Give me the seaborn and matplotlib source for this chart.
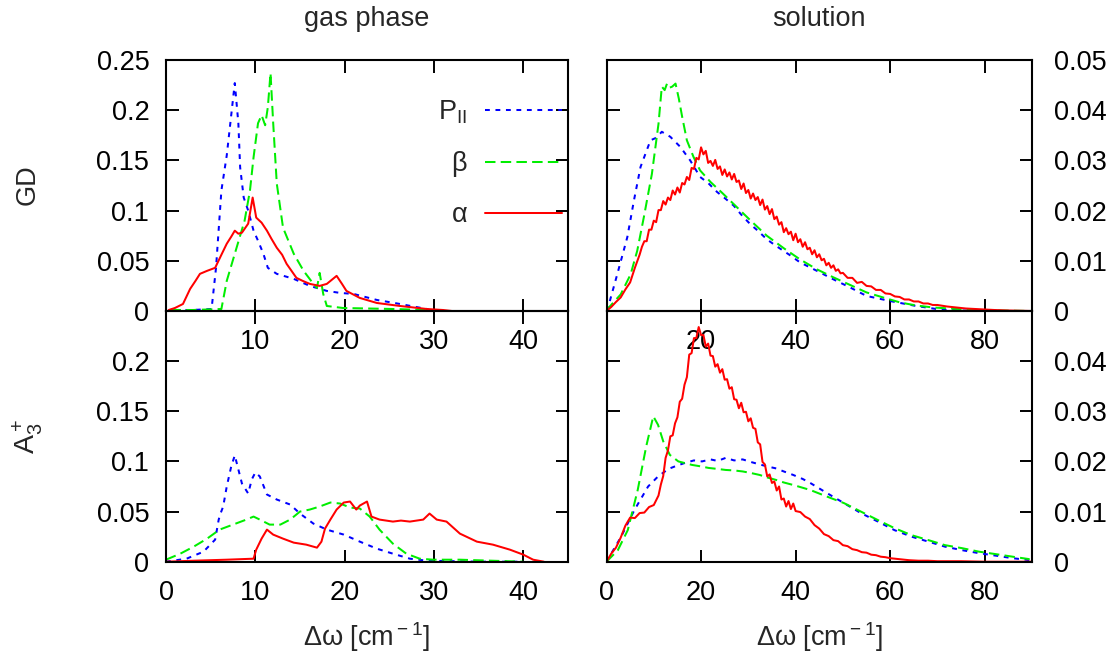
import matplotlib
matplotlib.use("Agg")
import matplotlib.pyplot as plt
import seaborn as sns

# ---------------- data: GD, gas phase ----------------
gd_gas_p_x = [1.0, 3.0, 5.1, 5.6, 6.2, 6.8, 7.7, 8.1, 8.3, 8.7, 9.2, 9.8, 10.3, 10.9, 11.4,
              12.4, 14.3, 16.1, 18.0, 19.5, 21.0, 23.6, 26.2, 29.2, 29.8]
gd_gas_p_y = [0.001, 0.001, 0.002, 0.043, 0.120, 0.155, 0.227, 0.187, 0.143, 0.113, 0.100,
              0.080, 0.070, 0.057, 0.043, 0.037, 0.032, 0.025, 0.020, 0.018, 0.017, 0.011,
              0.007, 0.002, 0.0]
gd_gas_b_x = [0.5, 3.0, 6.2, 6.8, 7.9, 8.8, 9.4, 9.8, 10.3, 10.7, 11.1, 11.4, 11.7, 12.0, 12.4,
              13.1, 14.3, 15.4, 16.5, 16.9, 17.2, 17.6, 18.0, 19.8, 25.4, 29.2, 30.0]
gd_gas_b_y = [0.001, 0.001, 0.002, 0.030, 0.063, 0.090, 0.120, 0.153, 0.187, 0.195, 0.185,
              0.203, 0.237, 0.187, 0.127, 0.083, 0.057, 0.040, 0.027, 0.023, 0.038, 0.017,
              0.005, 0.003, 0.002, 0.001, 0.0]
gd_gas_a_x = [0.3, 1.0, 1.9, 2.7, 3.3, 3.8, 4.6, 5.5, 6.2, 6.8, 7.3, 7.7, 8.1, 8.5, 9.2, 9.7,
              10.1, 10.7, 11.3, 11.8, 12.4, 13.0, 13.5, 14.6, 15.3, 16.1, 17.2, 18.0, 19.1,
              19.7, 20.2, 21.7, 23.6, 26.2, 29.2, 31.0, 32.0]
gd_gas_a_y = [0.001, 0.003, 0.007, 0.022, 0.030, 0.037, 0.040, 0.043, 0.056, 0.067, 0.074,
              0.080, 0.077, 0.078, 0.087, 0.113, 0.093, 0.088, 0.080, 0.072, 0.063, 0.056,
              0.047, 0.033, 0.030, 0.027, 0.025, 0.027, 0.035, 0.027, 0.020, 0.013, 0.008,
              0.005, 0.002, 0.001, 0.0]

# ---------------- data: A3+, gas phase ----------------
a3_gas_p_x = [0.0, 2.3, 4.2, 5.5, 5.9, 6.1, 6.4, 6.8, 7.3, 7.7, 8.1, 8.5, 9.2, 9.6, 10.0, 10.5,
              11.3, 12.4, 13.9, 15.0, 16.5, 18.0, 19.9, 21.7, 23.6, 25.4, 27.3, 29.2, 35.0, 40.0]
a3_gas_p_y = [0.0, 0.003, 0.010, 0.022, 0.042, 0.048, 0.055, 0.075, 0.095, 0.106, 0.092, 0.078,
              0.068, 0.082, 0.089, 0.085, 0.067, 0.062, 0.057, 0.048, 0.038, 0.032, 0.027,
              0.020, 0.013, 0.008, 0.003, 0.001, 0.0, 0.0]
a3_gas_b_x = [0.0, 1.6, 3.1, 4.6, 6.0, 7.5, 9.0, 9.8, 10.5, 11.6, 12.8, 13.9, 15.0, 16.1, 17.2,
              18.4, 19.5, 20.6, 21.7, 22.8, 23.9, 25.4, 26.9, 28.4, 29.9, 32.9, 40.0]
a3_gas_b_y = [0.002, 0.008, 0.015, 0.023, 0.032, 0.037, 0.042, 0.045, 0.042, 0.037, 0.037,
              0.042, 0.050, 0.052, 0.055, 0.059, 0.058, 0.054, 0.053, 0.045, 0.032, 0.018,
              0.008, 0.003, 0.002, 0.002, 0.0]
a3_gas_a_x = [0.0, 3.1, 6.8, 9.8, 10.1, 10.7, 11.3, 12.0, 13.1, 14.3, 15.7, 16.9, 17.4, 17.8,
              18.4, 19.1, 19.9, 20.6, 21.3, 21.7, 22.5, 23.0, 23.9, 25.4, 26.3, 27.3, 28.8,
              29.5, 30.3, 31.4, 32.9, 34.8, 36.6, 38.5, 40.0, 41.1, 42.3]
a3_gas_a_y = [0.0, 0.001, 0.002, 0.003, 0.012, 0.023, 0.032, 0.027, 0.023, 0.019, 0.017, 0.014,
              0.020, 0.033, 0.042, 0.052, 0.059, 0.060, 0.052, 0.056, 0.060, 0.045, 0.042,
              0.040, 0.041, 0.040, 0.042, 0.048, 0.042, 0.040, 0.028, 0.020, 0.017, 0.012,
              0.007, 0.002, 0.0]

# ---------------- data: GD, solution ----------------
gd_sol_p_x = [0.0, 0.5, 2.3, 4.4, 5.8, 7.2, 9.3, 10.5, 11.7, 13.5, 15.6, 17.7, 19.8, 21.5, 23.4,
              25.0, 26.9, 28.5, 30.4, 32.0, 33.9, 35.5, 37.4, 39.0, 40.9, 44.5, 48.0, 51.5,
              55.0, 59.9, 65.5, 70.5, 75.0, 80.0, 90.0]
gd_sol_p_y = [0.0, 0.0013, 0.0074, 0.0147, 0.0220, 0.0287, 0.0340, 0.0345, 0.0357, 0.0347,
              0.0327, 0.0300, 0.0267, 0.0255, 0.0237, 0.0225, 0.0210, 0.0192, 0.0173, 0.0160,
              0.0143, 0.0132, 0.0120, 0.0110, 0.0097, 0.0080, 0.0063, 0.0047, 0.0030, 0.0020,
              0.0010, 0.0003, 0.0001, 0.0, 0.0]
gd_sol_b_x = [0.0, 0.5, 3.0, 5.1, 6.5, 7.9, 9.6, 11.0, 11.7, 12.3, 12.8, 13.4, 13.9, 14.6, 15.3,
              16.0, 17.0, 18.4, 19.8, 22.0, 24.5, 26.9, 30.5, 33.9, 37.5, 40.9, 44.5, 48.0,
              51.5, 55.0, 58.5, 62.1, 65.5, 69.1, 76.1, 82.0, 90.0]
gd_sol_b_y = [0.0, 0.0007, 0.0033, 0.0073, 0.0120, 0.0187, 0.0273, 0.0373, 0.0447, 0.0440,
              0.0453, 0.0445, 0.0447, 0.0453, 0.0423, 0.0387, 0.0340, 0.0307, 0.0280, 0.0257,
              0.0235, 0.0213, 0.0180, 0.0150, 0.0125, 0.0103, 0.0083, 0.0067, 0.0052, 0.0037,
              0.0027, 0.0017, 0.0011, 0.0007, 0.0003, 0.0001, 0.0]
gd_sol_a_x = [0, 1, 2, 3, 4, 5, 6, 7, 7.5, 8, 8.5, 9, 9.5, 10, 10.5, 11, 11.5, 12, 12.5, 13, 13.5,
              14, 14.5, 15, 15.5, 16, 16.5, 17, 17.5, 18, 18.5, 19, 19.5, 20, 20.5, 21, 21.5,
              22, 22.5, 23, 23.5, 24, 24.5, 25, 25.5, 26, 26.5, 27, 27.5, 28, 28.5, 29, 29.5,
              30, 30.5, 31, 31.5, 32, 32.5, 33, 33.5, 34, 34.5, 35, 35.5, 36, 36.5, 37, 37.5,
              38, 38.5, 39, 39.5, 40, 40.5, 41, 41.5, 42, 42.5, 43, 43.5, 44, 44.5, 45, 45.5,
              46, 46.5, 47, 47.5, 48, 48.5, 49, 49.5, 50, 51, 52, 53, 54, 55, 56, 57, 58, 59,
              60, 61, 62, 63, 64, 65, 66, 67, 68, 69, 70, 72, 74, 76, 78, 80, 82, 85, 90]
gd_sol_a_y = [0.0, 0.0008, 0.0018, 0.0027, 0.0043, 0.0057, 0.0086, 0.0112, 0.0128, 0.0139,
              0.0139, 0.0162, 0.0162, 0.0180, 0.0177, 0.0201, 0.0201, 0.0219, 0.0212, 0.0226,
              0.0221, 0.0240, 0.0232, 0.0246, 0.0236, 0.0255, 0.0252, 0.0267, 0.0261, 0.0285,
              0.0283, 0.0305, 0.0302, 0.0326, 0.0312, 0.0319, 0.0295, 0.0299, 0.0289, 0.0301,
              0.0283, 0.0288, 0.0271, 0.0282, 0.0268, 0.0276, 0.0262, 0.0273, 0.0257, 0.0260,
              0.0243, 0.0254, 0.0235, 0.0241, 0.0224, 0.0234, 0.0221, 0.0227, 0.0211, 0.0222,
              0.0202, 0.0209, 0.0193, 0.0203, 0.0183, 0.0188, 0.0172, 0.0177, 0.0157, 0.0165,
              0.0153, 0.0158, 0.0141, 0.0154, 0.0137, 0.0143, 0.0128, 0.0137, 0.0123, 0.0126,
              0.0113, 0.0121, 0.0107, 0.0113, 0.0101, 0.0104, 0.0091, 0.0096, 0.0086, 0.0091,
              0.0080, 0.0083, 0.0075, 0.0076, 0.0066, 0.0066, 0.0056, 0.0058, 0.0050, 0.0049,
              0.0042, 0.0042, 0.0035, 0.0034, 0.0029, 0.0028, 0.0023, 0.0023, 0.0019, 0.0019,
              0.0015, 0.0015, 0.0012, 0.0012, 0.0009, 0.0007, 0.0005, 0.0004, 0.0003, 0.0002,
              0.0001, 0.0]

# ---------------- data: A3+, solution ----------------
a3_sol_p_x = [0.0, 3.1, 5.9, 8.8, 10.9, 13.1, 15.0, 16.6, 18.5, 20.2, 22.0, 23.5, 25.2, 27.0,
              28.8, 30.5, 32.4, 34.0, 35.9, 37.5, 39.5, 41.5, 43.1, 46.6, 50.2, 53.8, 57.4,
              60.9, 64.5, 68.1, 71.6, 75.2, 78.8, 82.4, 85.9, 89.5]
a3_sol_p_y = [0.0, 0.0050, 0.0103, 0.0150, 0.0170, 0.0185, 0.0192, 0.0197, 0.0202, 0.0200,
              0.0204, 0.0201, 0.0207, 0.0202, 0.0204, 0.0199, 0.0194, 0.0190, 0.0186, 0.0180,
              0.0173, 0.0165, 0.0157, 0.0137, 0.0117, 0.0097, 0.0080, 0.0063, 0.0050, 0.0040,
              0.0030, 0.0023, 0.0017, 0.0012, 0.0007, 0.0003]
a3_sol_b_x = [0.0, 2.4, 4.5, 6.6, 8.4, 9.9, 10.9, 12.0, 13.4, 15.2, 18.1, 20.0, 21.6, 23.5, 25.2,
              27.0, 28.8, 30.5, 32.4, 34.0, 35.9, 37.5, 39.5, 43.1, 46.6, 50.2, 53.8, 57.4,
              60.9, 64.5, 68.1, 71.6, 75.2, 78.8, 82.4, 85.9, 89.5]
a3_sol_b_y = [0.0, 0.0023, 0.0063, 0.0143, 0.0230, 0.0290, 0.0273, 0.0240, 0.0213, 0.0200,
              0.0193, 0.0190, 0.0187, 0.0185, 0.0183, 0.0182, 0.0180, 0.0177, 0.0173, 0.0168,
              0.0163, 0.0158, 0.0153, 0.0143, 0.0130, 0.0117, 0.0100, 0.0083, 0.0067, 0.0053,
              0.0043, 0.0033, 0.0027, 0.0020, 0.0015, 0.0010, 0.0005]
a3_sol_a_x = [0, 1, 2, 3, 4, 5, 6, 7, 8, 9, 10, 11, 11.5, 12, 12.5, 13, 13.5, 14, 14.5, 15, 15.5,
              16, 16.5, 17, 17.5, 18, 18.5, 19, 19.5, 20, 20.5, 21, 21.5, 22, 22.5, 23, 23.5,
              24, 24.5, 25, 25.5, 26, 26.5, 27, 27.5, 28, 28.5, 29, 29.5, 30, 30.5, 31, 31.5,
              32, 32.5, 33, 33.5, 34, 34.5, 35, 35.5, 36, 36.5, 37, 37.5, 38, 38.5, 39, 39.5,
              40, 41, 42, 43, 44, 45, 46, 47, 48, 49, 50, 51, 52, 53, 54, 55, 56, 57, 58, 59,
              60, 62, 64, 66, 68, 70, 75, 80, 90]
a3_sol_a_y = [0.0, 0.0016, 0.0028, 0.0048, 0.0072, 0.0088, 0.0087, 0.0097, 0.0098, 0.0109,
              0.0113, 0.0132, 0.0154, 0.0171, 0.0207, 0.0222, 0.0250, 0.0252, 0.0276, 0.0288,
              0.0319, 0.0325, 0.0353, 0.0368, 0.0413, 0.0416, 0.0446, 0.0446, 0.0468, 0.0452,
              0.0452, 0.0429, 0.0435, 0.0411, 0.0410, 0.0389, 0.0394, 0.0377, 0.0384, 0.0363,
              0.0364, 0.0345, 0.0348, 0.0324, 0.0323, 0.0306, 0.0317, 0.0298, 0.0299, 0.0280,
              0.0286, 0.0267, 0.0265, 0.0238, 0.0234, 0.0199, 0.0194, 0.0170, 0.0174, 0.0157,
              0.0160, 0.0142, 0.0150, 0.0124, 0.0126, 0.0110, 0.0121, 0.0105, 0.0116, 0.0101,
              0.0099, 0.0090, 0.0085, 0.0073, 0.0066, 0.0055, 0.0051, 0.0043, 0.0041, 0.0033,
              0.0031, 0.0025, 0.0023, 0.0019, 0.0018, 0.0014, 0.0013, 0.0010, 0.0009, 0.0007,
              0.0005, 0.0003, 0.0002, 0.0002, 0.0001, 0.0001, 0.0, 0.0]

# ---------------- labels / ticks ----------------
series_labels = [r"P$_{\rm II}$", "β", "α"]
col_titles = ["gas phase", "solution"]
row_titles = ["GD", r"A$_3^+$"]
xlabel_text = r"Δω [cm$^{\rm -1}$]"
gas_xticks = [0, 10, 20, 30, 40]
sol_xticks = [0, 20, 40, 60, 80]
gas_yticks = [0, 0.05, 0.1, 0.15, 0.2, 0.25]
sol_yticks = [0, 0.01, 0.02, 0.03, 0.04, 0.05]

# ---------------- style ----------------
sns.set_style("ticks")
plt.rcParams['font.family'] = ['Liberation Sans', 'DejaVu Sans']
plt.rcParams['mathtext.fontset'] = 'custom'
plt.rcParams['mathtext.rm'] = 'Liberation Sans'
plt.rcParams['mathtext.it'] = 'Liberation Sans:italic'
plt.rcParams['mathtext.bf'] = 'Liberation Sans:bold'

FS = 19.5
BLUE, GREEN, RED = '#0000ff', '#00ee00', '#ff0000'
LW = 1.45
LS_P = (0, (2.4, 2.8))
LS_B = (0, (5.2, 2.6))
LS_A = '-'

W, H = 1120, 657
fig = plt.figure(figsize=(W / 100, H / 100), dpi=100)

xl, wl = 166 / W, 402 / W
xr, wr = 606.5 / W, 425.5 / W
yt, ht = 1 - 311 / H, 251 / H
yb, hb = 1 - 561.7 / H, 250.7 / H

ax_tl = fig.add_axes([xl, yt, wl, ht])
ax_tr = fig.add_axes([xr, yt, wr, ht])
ax_bl = fig.add_axes([xl, yb, wl, hb])
ax_br = fig.add_axes([xr, yb, wr, hb])

panels = [
    (ax_tl, gd_gas_p_x, gd_gas_p_y, gd_gas_b_x, gd_gas_b_y, gd_gas_a_x, gd_gas_a_y),
    (ax_tr, gd_sol_p_x, gd_sol_p_y, gd_sol_b_x, gd_sol_b_y, gd_sol_a_x, gd_sol_a_y),
    (ax_bl, a3_gas_p_x, a3_gas_p_y, a3_gas_b_x, a3_gas_b_y, a3_gas_a_x, a3_gas_a_y),
    (ax_br, a3_sol_p_x, a3_sol_p_y, a3_sol_b_x, a3_sol_b_y, a3_sol_a_x, a3_sol_a_y),
]

for ax, px, py, bx, by, axx, ayy in panels:
    ax.set_facecolor('none')
    for x, y, c, ls, lab in [(px, py, BLUE, LS_P, series_labels[0]),
                              (bx, by, GREEN, LS_B, series_labels[1]),
                              (axx, ayy, RED, LS_A, series_labels[2])]:
        sns.lineplot(x=x, y=y, ax=ax, color=c, linewidth=LW, linestyle=ls,
                     estimator=None, sort=False, label=lab, legend=False)
    for s in ax.spines.values():
        s.set_linewidth(1.5)
        s.set_color('black')
    ax.tick_params(axis='both', direction='in', length=9, width=1.4,
                   top=True, right=True, bottom=True, left=True,
                   labelsize=FS, colors='black')
    ax.tick_params(axis='x', pad=13)

# gas phase panels
for ax in (ax_tl, ax_bl):
    ax.set_xlim(0, 45)
    ax.set_ylim(0, 0.25)
    ax.tick_params(axis='y', pad=12)
ax_tl.set_xticks(gas_xticks, [''] + [f"{v:g}" for v in gas_xticks[1:]])
ax_bl.set_xticks(gas_xticks, [f"{v:g}" for v in gas_xticks])
ax_tl.set_yticks(gas_yticks, [f"{v:g}" for v in gas_yticks])
ax_bl.set_yticks(gas_yticks, [f"{v:g}" for v in gas_yticks[:-1]] + [''])

# solution panels
for ax in (ax_tr, ax_br):
    ax.set_xlim(0, 90)
    ax.set_ylim(0, 0.05)
    ax.tick_params(axis='y', labelleft=False, labelright=True, pad=16)
ax_tr.set_xticks(sol_xticks, [''] + [f"{v:g}" for v in sol_xticks[1:]])
ax_br.set_xticks(sol_xticks, [f"{v:g}" for v in sol_xticks])
ax_tr.set_yticks(sol_yticks, [f"{v:g}" for v in sol_yticks])
ax_br.set_yticks(sol_yticks, [f"{v:g}" for v in sol_yticks[:-1]] + [''])

for ax in (ax_tl, ax_tr, ax_bl, ax_br):
    ax.set_xlabel('')
    ax.set_ylabel('')

for ax in (ax_bl, ax_br):
    ax.set_xlabel(xlabel_text, fontsize=FS)
    ax.xaxis.set_label_coords(0.5, -0.235)

# legend in the top-left panel
handles = ax_tl.get_lines()[:3]
ax_tl.legend(handles=handles, labels=series_labels, loc='upper right',
             bbox_to_anchor=(0.985, 0.845), frameon=False, markerfirst=False,
             handlelength=2.85, handletextpad=0.65, labelspacing=0.92, fontsize=FS,
             borderaxespad=0.0, borderpad=0.0)

# column and row titles
fig.text((166 + 568) / 2 / W, 1 - 19 / H, col_titles[0], ha='center', va='center', fontsize=FS)
fig.text((606.5 + 1032) / 2 / W, 1 - 19 / H, col_titles[1], ha='center', va='center', fontsize=FS)
fig.text(28 / W, 1 - 185 / H, row_titles[0], rotation=90, ha='center', va='center', fontsize=FS)
fig.text(28 / W, 1 - 436 / H, row_titles[1], rotation=90, ha='center', va='center', fontsize=FS + 1)

fig.savefig("out.png", dpi=100)
